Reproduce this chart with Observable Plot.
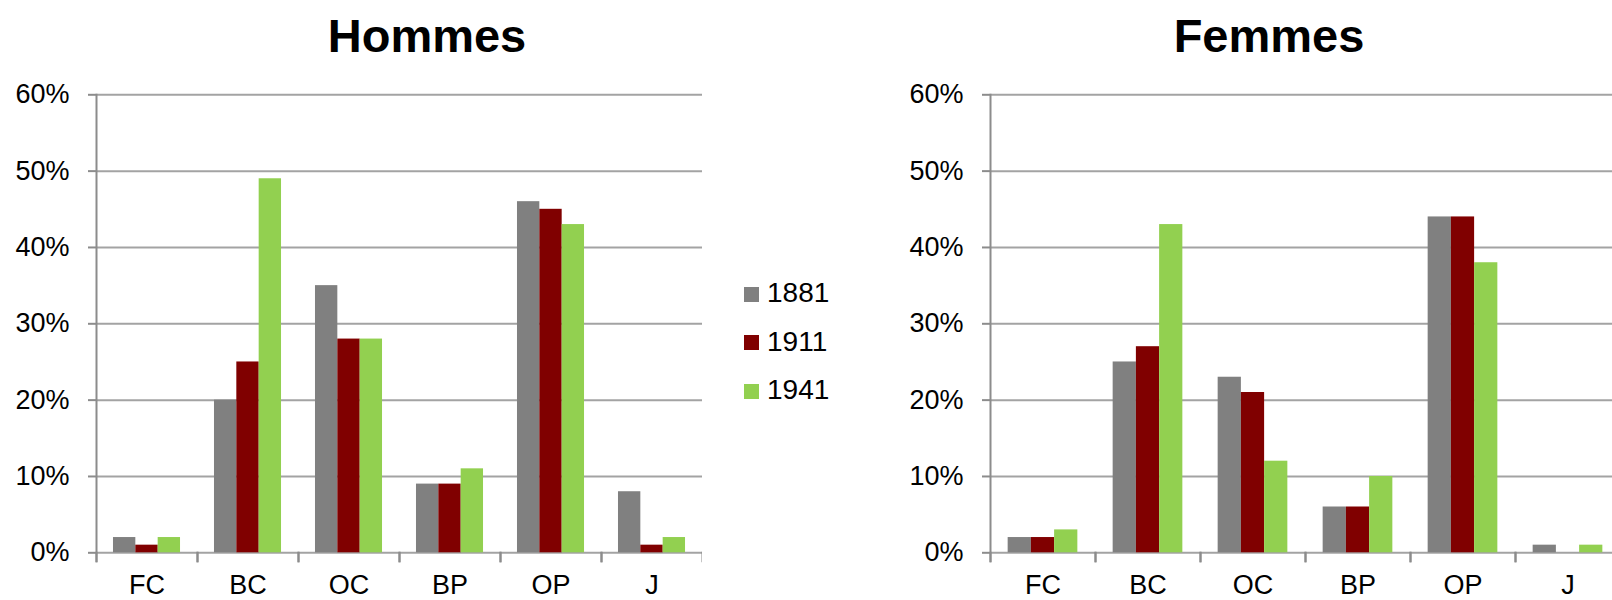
<!DOCTYPE html>
<html>
<head>
<meta charset="utf-8">
<script src="https://cdn.jsdelivr.net/npm/d3@7"></script>
<script src="https://cdn.jsdelivr.net/npm/@observablehq/plot@0.6"></script>
<style>
  html, body { margin: 0; padding: 0; background: #fff; }
  #wrap { position: relative; width: 1612px; height: 600px; overflow: hidden; font-family: "Liberation Sans", Arial, sans-serif; color: #000; }
  .title { position: absolute; top: 12px; width: 400px; height: 47px; line-height: 47px; font-size: 47px; font-weight: bold; text-align: center; }
  .chart { position: absolute; top: 70px; }
  #legend { position: absolute; left: 744px; top: 270px; }
  .row { display: flex; align-items: center; height: 48.5px; font-size: 28px; line-height: 28px; }
  .sw { width: 15px; height: 15px; margin-right: 8px; }
  .row span.lab { position: relative; top: -1px; }
</style>
</head>
<body>
<div id="wrap">
  <div class="title" id="t1" style="left:227px">Hommes</div>
  <div class="title" id="t2" style="left:1069px">Femmes</div>
  <div class="chart" id="c1" style="left:0px"></div>
  <div id="legend"></div>
  <div class="chart" id="c2" style="left:860px"></div>
</div>
<script>
const categories = ["FC", "BC", "OC", "BP", "OP", "J"];
const years = ["1881", "1911", "1941"];
const colors = ["#808080", "#800000", "#92D050"];
const titles = ["Hommes", "Femmes"];
const yTicks = [0, 0.1, 0.2, 0.3, 0.4, 0.5, 0.6];

// Hommes (%)
const hommes1881 = [2, 20, 35, 9, 46, 8];
const hommes1911 = [1, 25, 28, 9, 45, 1];
const hommes1941 = [2, 49, 28, 11, 43, 2];
// Femmes (%)
const femmes1881 = [2, 25, 23, 6, 44, 1];
const femmes1911 = [2, 27, 21, 6, 44, 0];
const femmes1941 = [3, 43, 12, 10, 38, 1];

function tidy(series) {
  return categories.flatMap((c, i) => years.map((y, j) => ({cat: c, year: y, value: series[j][i] / 100})));
}

const GRID = "#a3a3a3";
const AXIS = "#8c8c8c";

function chart({data, width, marginLeft, marginRight}) {
  const H = 530, mt = 24.3, mb = 47.7, inner = H - mt - mb;
  return Plot.plot({
    width, height: H, marginTop: mt, marginBottom: mb, marginLeft, marginRight,
    style: {fontFamily: "Liberation Sans, Arial, sans-serif", color: "#000", background: "#fff"},
    fx: {domain: categories, paddingInner: 0, paddingOuter: 0, label: null},
    x: {domain: years, paddingInner: 0, paddingOuter: 0.76, axis: null, round: false},
    y: {domain: [0, 0.6], label: null},
    color: {domain: years, range: colors},
    marks: [
      Plot.ruleY(yTicks, {stroke: GRID, strokeWidth: 2}),
      Plot.barY(data, {fx: "cat", x: "year", y: "value", fill: "year"}),
      Plot.frame({facet: "super", anchor: "left", stroke: AXIS, strokeWidth: 2, insetBottom: -8.5}),
      Plot.frame({anchor: "left", stroke: AXIS, strokeWidth: 2, insetTop: inner, insetBottom: -8.5}),
      Plot.frame({anchor: "right", stroke: AXIS, strokeWidth: 2, insetTop: inner, insetBottom: -8.5}),
      Plot.axisY(yTicks, {tickFormat: d3.format(".0%"), fontSize: 27, tickSize: 8, tickPadding: 19, stroke: AXIS, strokeWidth: 2, fill: "#000", label: null}),
      Plot.axisFx({anchor: "bottom", tickSize: 0, tickPadding: 22, fontSize: 27, fill: "#000", label: null})
    ]
  });
}

document.getElementById("c1").append(chart({
  data: tidy([hommes1881, hommes1911, hommes1941]), width: 702, marginLeft: 96, marginRight: 0
}));
document.getElementById("c2").append(chart({
  data: tidy([femmes1881, femmes1911, femmes1941]), width: 752, marginLeft: 129, marginRight: -9
}));

const legend = document.getElementById("legend");
years.forEach((y, i) => {
  const row = document.createElement("div");
  row.className = "row";
  const sw = document.createElement("div");
  sw.className = "sw";
  sw.style.background = colors[i];
  const lab = document.createElement("span");
  lab.className = "lab";
  lab.textContent = y;
  row.append(sw, lab);
  legend.append(row);
});
</script>
</body>
</html>
